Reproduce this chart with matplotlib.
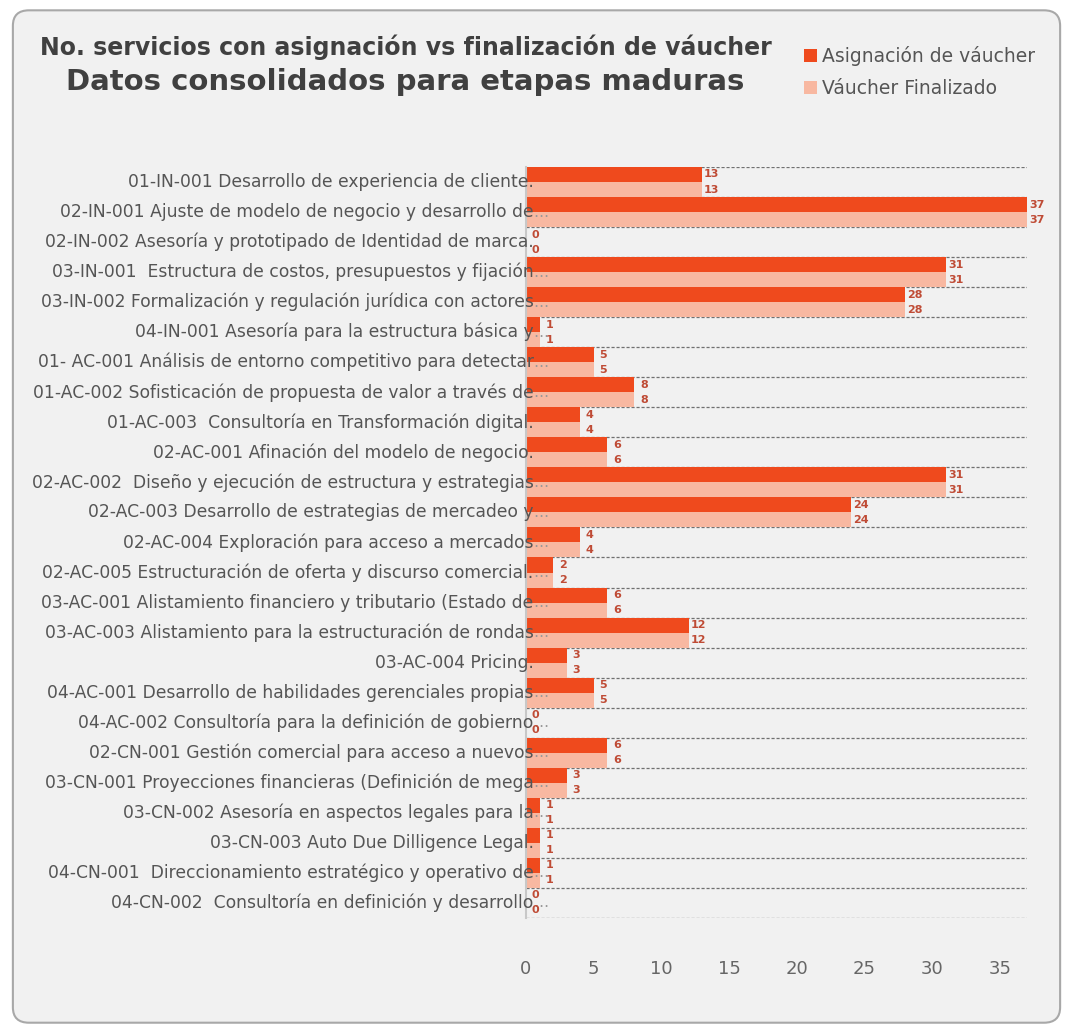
import matplotlib.pyplot as plt
from matplotlib.patches import FancyBboxPatch

plt.rcParams['font.family'] = ['DejaVu Sans']

# servicios (arriba -> abajo)
servicios = [
    "01-IN-001 Desarrollo de experiencia de cliente.",
    "02-IN-001 Ajuste de modelo de negocio y desarrollo de",
    "02-IN-002 Asesoría y prototipado de Identidad de marca.",
    "03-IN-001  Estructura de costos, presupuestos y fijación",
    "03-IN-002 Formalización y regulación jurídica con actores",
    "04-IN-001 Asesoría para la estructura básica y",
    "01- AC-001 Análisis de entorno competitivo para detectar",
    "01-AC-002 Sofisticación de propuesta de valor a través de",
    "01-AC-003  Consultoría en Transformación digital.",
    "02-AC-001 Afinación del modelo de negocio.",
    "02-AC-002  Diseño y ejecución de estructura y estrategias",
    "02-AC-003 Desarrollo de estrategias de mercadeo y",
    "02-AC-004 Exploración para acceso a mercados",
    "02-AC-005 Estructuración de oferta y discurso comercial.",
    "03-AC-001 Alistamiento financiero y tributario (Estado de",
    "03-AC-003 Alistamiento para la estructuración de rondas",
    "03-AC-004 Pricing.",
    "04-AC-001 Desarrollo de habilidades gerenciales propias",
    "04-AC-002 Consultoría para la definición de gobierno",
    "02-CN-001 Gestión comercial para acceso a nuevos",
    "03-CN-001 Proyecciones financieras (Definición de mega",
    "03-CN-002 Asesoría en aspectos legales para la",
    "03-CN-003 Auto Due Dilligence Legal.",
    "04-CN-001  Direccionamiento estratégico y operativo de",
    "04-CN-002  Consultoría en definición y desarrollo",
]
recortado = [False, True, False, True, True, True, True, True, False, False,
             True, True, True, True, True, True, False, True, True, True,
             True, True, False, True, True]
asignacion = [13, 37, 0, 31, 28, 1, 5, 8, 4, 6, 31, 24, 4, 2, 6, 12, 3, 5, 0, 6, 3, 1, 1, 1, 0]
finalizado = [13, 37, 0, 31, 28, 1, 5, 8, 4, 6, 31, 24, 4, 2, 6, 12, 3, 5, 0, 6, 3, 1, 1, 1, 0]

c_asig = "#EF4A1D"
c_fin = "#F8B8A1"
c_val = "#BF4B35"
gris = "#555555"

fig = plt.figure(figsize=(10.73, 10.32), dpi=100, facecolor="white")
fondo = FancyBboxPatch((0.012, 0.009), 0.976, 0.981, boxstyle="round,pad=0,rounding_size=0.015",
                       transform=fig.transFigure, facecolor="#F1F1F1", edgecolor="#A8A8A8",
                       linewidth=1.5, zorder=-10)
fig.patches.append(fondo)

ax = fig.add_axes([0.4902, 0.1105, 0.4670, 0.7277])
ax.set_facecolor("none")

y = list(range(len(servicios)))
h = 0.5
ax.barh([v - h / 2 for v in y], asignacion, height=h, color=c_asig, zorder=2,
        label="Asignación de váucher")
ax.barh([v + h / 2 for v in y], finalizado, height=h, color=c_fin, zorder=2,
        label="Váucher Finalizado")

ax.set_xlim(0, 37)
ax.set_ylim(len(servicios) - 0.5, -0.5)

# lineas entre categorias
for b in range(len(servicios) + 1):
    ax.axhline(b - 0.5, color="#707070", linestyle=(0, (2.5, 1.5)), linewidth=0.9, zorder=1)

for s in ["top", "right", "bottom"]:
    ax.spines[s].set_visible(False)
ax.spines["left"].set_color("#C8C8C8")
ax.spines["left"].set_linewidth(1.5)
ax.spines["left"].set_zorder(3)

ax.set_yticks([])
ax.set_xticks([0, 5, 10, 15, 20, 25, 30, 35])
ax.tick_params(axis="x", length=0, pad=30, labelsize=13, labelcolor="#666666")

# etiquetas de categorias
for i, (txt, cut) in enumerate(zip(servicios, recortado)):
    ax.annotate(txt, xy=(0, i), xycoords="data", xytext=(5.5, 0), textcoords="offset points",
                ha="right", va="center", fontsize=12.3, color=gris, zorder=5)
    if cut:
        ax.annotate("…", xy=(0, i), xycoords="data", xytext=(5.5, 0), textcoords="offset points",
                    ha="left", va="center", fontsize=11, color="#999999", zorder=5)

# valores
for i in y:
    ax.annotate(str(asignacion[i]), xy=(asignacion[i], i - h / 2), xytext=(7, 0),
                textcoords="offset points", ha="center", va="center", fontsize=8,
                fontweight="bold", color=c_val, zorder=5)
    ax.annotate(str(finalizado[i]), xy=(finalizado[i], i + h / 2), xytext=(7, 0),
                textcoords="offset points", ha="center", va="center", fontsize=8,
                fontweight="bold", color=c_val, zorder=5)

fig.text(0.378, 0.954, "No. servicios con asignación vs finalización de váucher",
         ha="center", va="center", fontsize=17, fontweight="bold", color="#404040")
fig.text(0.378, 0.921, "Datos consolidados para etapas maduras",
         ha="center", va="center", fontsize=21, fontweight="bold", color="#404040")

fig.legend(loc="center left", bbox_to_anchor=(0.742, 0.930), frameon=False, fontsize=13.5,
           labelcolor="#555555", handlelength=0.7, handleheight=0.7, handletextpad=0.3,
           labelspacing=0.7, borderaxespad=0)

fig.savefig("out.png", dpi=100, facecolor="white")
